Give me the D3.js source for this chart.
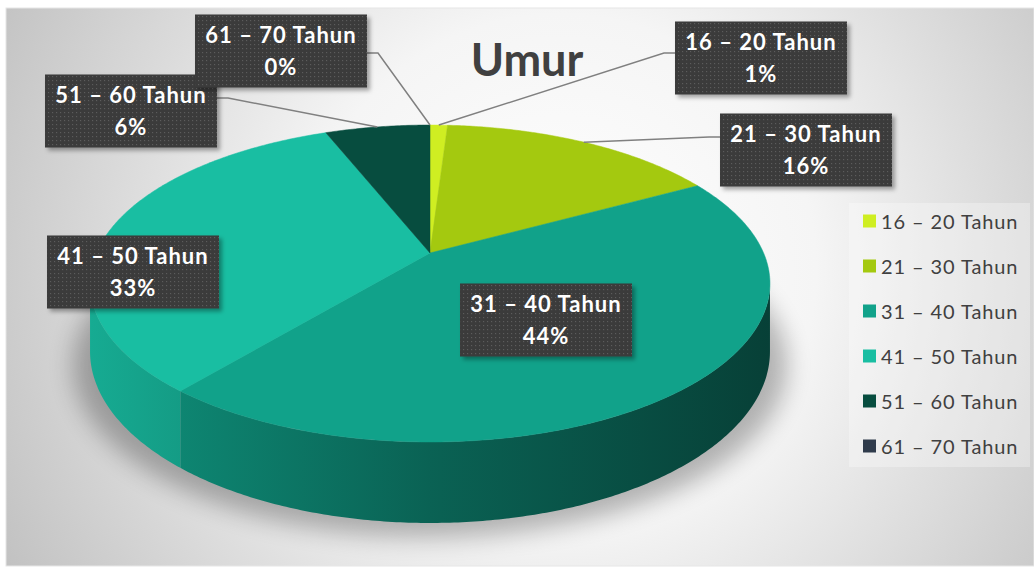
<!DOCTYPE html>
<html>
<head>
<meta charset="utf-8">
<title>Umur</title>
<style type="text/css">
body {
	margin: 0;
	background: #ffffff;
}
</style>
</head>
<body>
<div id="chart"></div>

<script src="https://cdn.jsdelivr.net/npm/d3@7"></script>
<script type="text/javascript">
	// data
	var categories = [ '16 – 20 Tahun', '21 – 30 Tahun', '31 – 40 Tahun',
			'41 – 50 Tahun', '51 – 60 Tahun', '61 – 70 Tahun' ];
	var percents = [ 1, 16, 44, 33, 6, 0 ];
	var colors = [ '#cfee22', '#a4c90f', '#11a28a', '#19bea2', '#074d3f', '#2f3b4b' ];
	var title = 'Umur';

	// label boxes (layout only): centre of box, y where leader leaves box
	var labelBoxes = [ { x: 761, y: 58, ay: 53 }, { x: 806, y: 150, ay: 137 },
			{ x: 546, y: 320, ay: null }, { x: 133, y: 272, ay: null },
			{ x: 131, y: 111, ay: 98 }, { x: 281, y: 51, ay: 53 } ];

	var width = 1034, height = 570;

	var svg = d3.select('#chart').append('svg')
		.attr('width', width)
		.attr('height', height)
		.style('font-family', 'Lato, "Open Sans", sans-serif');

	var defs = svg.append('defs');

	var bg = defs.append('radialGradient')
		.attr('id', 'bg')
		.attr('gradientUnits', 'userSpaceOnUse')
		.attr('cx', 560).attr('cy', 270).attr('r', 640);
	bg.append('stop').attr('offset', 0).attr('stop-color', '#ffffff');
	bg.append('stop').attr('offset', 0.4).attr('stop-color', '#f5f5f5');
	bg.append('stop').attr('offset', 1).attr('stop-color', '#c0c0c0');

	var dots = defs.append('pattern')
		.attr('id', 'dots')
		.attr('patternUnits', 'userSpaceOnUse')
		.attr('width', 4).attr('height', 4);
	dots.append('rect').attr('width', 4).attr('height', 4).attr('fill', '#3a3a3a');
	dots.append('rect').attr('x', 1).attr('y', 1).attr('width', 1.2).attr('height', 1.2)
		.attr('fill', '#5c5c5c');

	var boxShadow = defs.append('filter').attr('id', 'boxShadow')
		.attr('x', '-10%').attr('y', '-10%').attr('width', '130%').attr('height', '140%');
	boxShadow.append('feDropShadow')
		.attr('dx', 3).attr('dy', 3).attr('stdDeviation', 2)
		.attr('flood-color', '#000').attr('flood-opacity', 0.35);

	var blur = defs.append('filter').attr('id', 'blur')
		.attr('x', '-20%').attr('y', '-20%').attr('width', '140%').attr('height', '150%');
	blur.append('feGaussianBlur').attr('stdDeviation', 12);

	// chart area
	svg.append('rect')
		.attr('x', 6).attr('y', 8)
		.attr('width', width - 6).attr('height', 558)
		.attr('fill', 'url(#bg)')
		.attr('stroke', '#e6e6e6')
		.attr('stroke-width', 1);

	svg.append('text')
		.attr('x', 527).attr('y', 76)
		.attr('text-anchor', 'middle')
		.attr('font-size', 45)
		.attr('font-weight', 'bold')
		.attr('fill', '#404040')
		.text(title);

	// 3d pie projection
	var cx = 430, cy = 253, S = 333.6, A = 152.6, B = 0.1925, H = 65.4;

	function proj(theta, z) {
		var X = Math.sin(theta), Y = Math.cos(theta), w = 1 + B * Y;
		return [ cx + S * X / w, cy - A * Y / w + z * H / w ];
	}

	function arcPoints(a0, a1, z) {
		var n = Math.max(2, Math.ceil((a1 - a0) / 0.01));
		return d3.range(n + 1).map(function(i) {
			return proj(a0 + (a1 - a0) * i / n, z);
		});
	}

	var pie = d3.pie().sort(null).value(function(d) {
		return d;
	});
	var arcs = pie(percents);
	var line = d3.line();

	// visible wall range (front)
	var wallFrom = Math.acos(-B), wallTo = 2 * Math.PI - Math.acos(-B);

	// shadow
	var rim = arcPoints(0, 2 * Math.PI, 1).map(function(p) {
		return [ cx + (p[0] - cx) * 1.05, p[1] + 14 ];
	});
	svg.append('path')
		.attr('d', line(rim) + 'Z')
		.attr('fill', '#000')
		.attr('opacity', 0.28)
		.attr('filter', 'url(#blur)');

	var pieG = svg.append('g');

	// wall gradients
	arcs.forEach(function(a, i) {
		var g = defs.append('linearGradient')
			.attr('id', 'wall' + i)
			.attr('gradientUnits', 'userSpaceOnUse')
			.attr('x1', cx - S * 1.02).attr('x2', cx + S * 1.02)
			.attr('y1', 0).attr('y2', 0);
		[ [ 0, 0.3 ], [ 0.5, 1.4 ], [ 1, 2.6 ] ].forEach(function(s) {
			g.append('stop').attr('offset', s[0])
				.attr('stop-color', d3.color(colors[i]).darker(s[1]));
		});
	});

	pieG.selectAll('path.wall')
		.data(arcs.filter(function(a) {
			return a.endAngle > wallFrom && a.startAngle < wallTo;
		}))
		.enter().append('path')
		.attr('class', 'wall')
		.attr('fill', function(a) {
			return 'url(#wall' + a.index + ')';
		})
		.attr('d', function(a) {
			var a0 = Math.max(a.startAngle, wallFrom), a1 = Math.min(a.endAngle, wallTo);
			var pts = arcPoints(a0, a1, 0).concat(arcPoints(a0, a1, 1).reverse());
			return line(pts) + 'Z';
		});

	pieG.selectAll('path.top')
		.data(arcs.filter(function(a) {
			return a.endAngle > a.startAngle;
		}))
		.enter().append('path')
		.attr('class', 'top')
		.attr('fill', function(a) {
			return colors[a.index];
		})
		.attr('stroke', function(a) {
			return colors[a.index];
		})
		.attr('stroke-width', 0.5)
		.attr('d', function(a) {
			return line([ [ cx, cy ] ].concat(arcPoints(a.startAngle, a.endAngle, 0))) + 'Z';
		});

	// labels
	var boxW = 172, boxH = 73;
	var labelG = svg.append('g');

	labelG.selectAll('path.leader')
		.data(arcs.filter(function(a) {
			return labelBoxes[a.index].ay !== null;
		}))
		.enter().append('path')
		.attr('class', 'leader')
		.attr('fill', 'none')
		.attr('stroke', '#808080')
		.attr('stroke-width', 1.5)
		.attr('d', function(a) {
			var b = labelBoxes[a.index];
			var end = proj((a.startAngle + a.endAngle) / 2, 0);
			var side = end[0] > b.x ? 1 : -1;
			var x0 = b.x + side * boxW / 2;
			return line([ [ x0, b.ay ], [ x0 + side * 11, b.ay ], end ]);
		});

	var label = labelG.selectAll('g.label')
		.data(arcs)
		.enter().append('g')
		.attr('class', 'label')
		.attr('transform', function(a) {
			var b = labelBoxes[a.index];
			return 'translate(' + b.x + ',' + b.y + ')';
		});

	label.append('rect')
		.attr('x', -boxW / 2).attr('y', -boxH / 2)
		.attr('width', boxW).attr('height', boxH)
		.attr('fill', 'url(#dots)')
		.attr('filter', 'url(#boxShadow)');

	label.append('text')
		.attr('text-anchor', 'middle')
		.attr('fill', '#ffffff')
		.attr('font-weight', 'bold')
		.attr('font-size', 22)
		.attr('letter-spacing', 1)
		.call(function(t) {
			t.append('tspan').attr('x', 0).attr('y', -8).text(function(a) {
				return categories[a.index];
			});
			t.append('tspan').attr('x', 0).attr('y', 24).text(function(a) {
				return a.data + '%';
			});
		});

	// legend
	var legend = svg.append('g').attr('transform', 'translate(849,203)');
	legend.append('rect')
		.attr('width', 181).attr('height', 264)
		.attr('fill', '#ffffff').attr('opacity', 0.3);

	var item = legend.selectAll('g.item')
		.data(categories)
		.enter().append('g')
		.attr('class', 'item')
		.attr('transform', function(d, i) {
			return 'translate(14,' + (18 + i * 45) + ')';
		});

	item.append('rect')
		.attr('y', -6.5).attr('width', 13).attr('height', 13)
		.attr('fill', function(d, i) {
			return colors[i];
		});

	item.append('text')
		.attr('x', 18).attr('y', 7.5)
		.attr('font-size', 20)
		.attr('letter-spacing', 0.9)
		.attr('fill', '#404040')
		.text(function(d) {
			return d;
		});
</script>
</body>
</html>
